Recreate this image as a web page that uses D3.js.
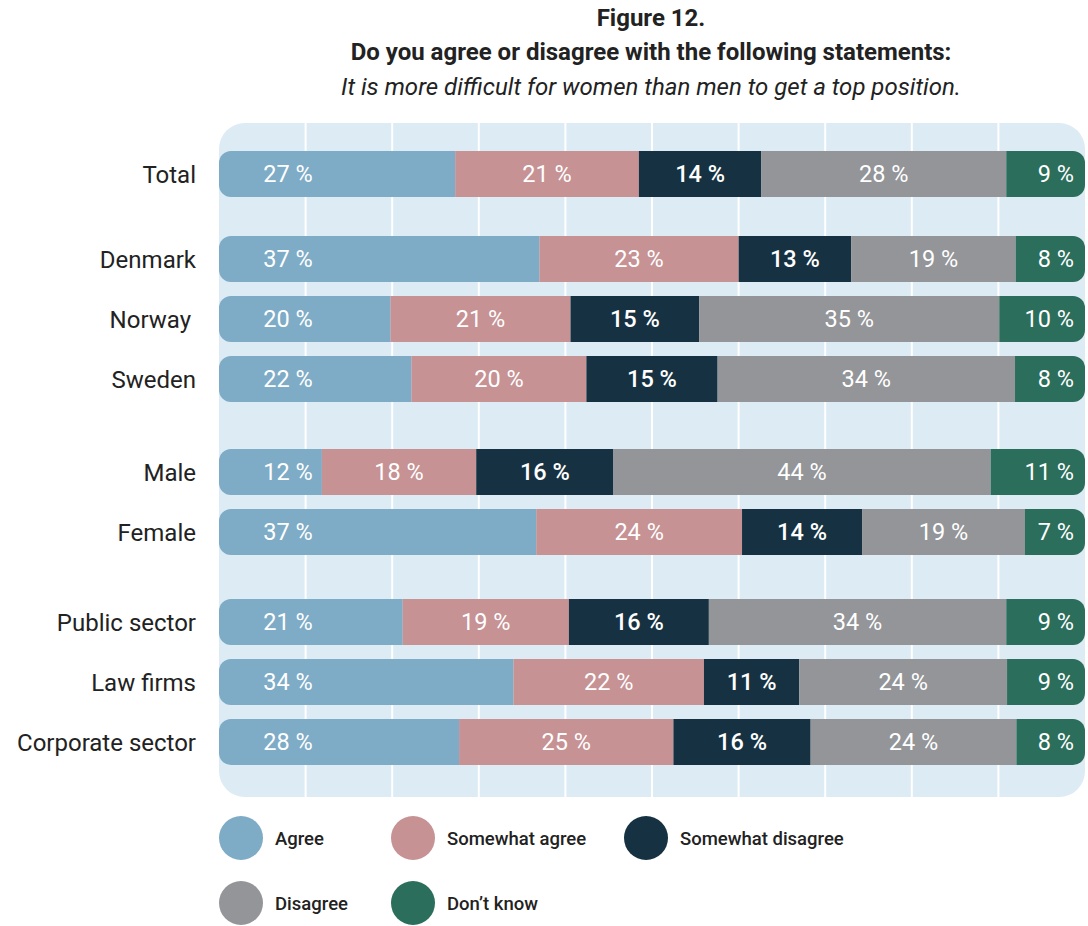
<!DOCTYPE html>
<html>
<head>
<meta charset="utf-8">
<script src="https://cdn.jsdelivr.net/npm/d3@7"></script>
<style>
  html, body { margin: 0; padding: 0; background: #fff; }
  svg { display: block; font-family: Roboto, "Noto Sans", sans-serif; }
</style>
</head>
<body>
<svg id="chart" width="1088" height="926"></svg>
<script>
// Survey answers, percent of respondents per row
const categories = ["Total", "Denmark", "Norway", "Sweden", "Male", "Female", "Public sector", "Law firms", "Corporate sector"];
const groups = [0, 1, 1, 1, 2, 2, 3, 3, 3];
const answers = ["Agree", "Somewhat agree", "Somewhat disagree", "Disagree", "Don\u2019t know"];
const agree             = [27, 37, 20, 22, 12, 37, 21, 34, 28];
const somewhatAgree     = [21, 23, 21, 20, 18, 24, 19, 22, 25];
const somewhatDisagree  = [14, 13, 15, 15, 16, 14, 16, 11, 16];
const disagree          = [28, 19, 35, 34, 44, 19, 34, 24, 24];
const dontKnow          = [9, 8, 10, 8, 11, 7, 9, 9, 8];
const colors = ["#7eabc6", "#c69294", "#163242", "#939598", "#2a6e5b"];

const rows = categories.map((c, i) => ({
  category: c,
  group: groups[i],
  "Agree": agree[i],
  "Somewhat agree": somewhatAgree[i],
  "Somewhat disagree": somewhatDisagree[i],
  "Disagree": disagree[i],
  "Don\u2019t know": dontKnow[i]
}));

const svg = d3.select("#chart");

// Plot frame
const plotLeft = 219, plotRight = 1085, plotTop = 123, plotBottom = 797;
const x = d3.scaleLinear().domain([0, 1]).range([plotLeft, plotRight]);
const step = 60, firstY = 174, barH = 46;
const groupOffset = [0, 25, 58, 88];   // extra space before each group
const yIndex = d3.scaleLinear().domain([0, 1]).range([firstY, firstY + step]);
const yc = d => yIndex(categories.indexOf(d.category)) + groupOffset[d.group];

const color = d3.scaleOrdinal().domain(answers).range(colors);
const stack = d3.stack().keys(answers).offset(d3.stackOffsetExpand);
const series = stack(rows);

// Background panel
svg.append("rect")
  .attr("x", plotLeft).attr("y", plotTop)
  .attr("width", plotRight - plotLeft).attr("height", plotBottom - plotTop)
  .attr("rx", 26).attr("ry", 26)
  .attr("fill", "#dcebf4");

// Vertical grid lines
svg.append("g")
  .selectAll("line")
  .data(d3.range(1, 10).map(k => k / 10))
  .join("line")
  .attr("x1", d => x(d)).attr("x2", d => x(d))
  .attr("y1", plotTop).attr("y2", plotBottom)
  .attr("stroke", "#ffffff").attr("stroke-width", 2);

// Rounded clip for each row's bar
const defs = svg.append("defs");
rows.forEach((d, i) => {
  defs.append("clipPath").attr("id", "rowclip" + i)
    .append("rect")
    .attr("x", x(0)).attr("y", yc(d) - barH / 2)
    .attr("width", x(1) - x(0)).attr("height", barH)
    .attr("rx", 12).attr("ry", 12);
});

const barsG = svg.append("g");
rows.forEach((row, i) => {
  const g = barsG.append("g").attr("clip-path", `url(#rowclip${i})`);
  series.forEach(s => {
    const seg = s[i];
    g.append("rect")
      .attr("x", x(seg[0]))
      .attr("y", yc(row) - barH / 2)
      .attr("width", x(seg[1]) - x(seg[0]))
      .attr("height", barH)
      .attr("fill", color(s.key));
  });
});

// Value labels
const labelsG = svg.append("g")
  .attr("font-size", 23.5)
  .attr("fill", "#ffffff");
rows.forEach((row, i) => {
  series.forEach((s, k) => {
    const seg = s[i];
    let px, anchor = "middle";
    if (k === 0) { px = x(0) + 69; }
    else if (k === answers.length - 1) { px = x(1) - 11; anchor = "end"; }
    else { px = (x(seg[0]) + x(seg[1])) / 2; }
    labelsG.append("text")
      .attr("x", px)
      .attr("y", yc(row))
      .attr("dy", "0.36em")
      .attr("text-anchor", anchor)
      .attr("font-weight", k === 2 ? 500 : 400)
      .text(row[s.key] + " %");
  });
});

// Category labels
svg.append("g")
  .selectAll("text")
  .data(rows)
  .join("text")
  .attr("x", d => d.category === "Norway" ? 191 : 196)
  .attr("y", d => yc(d))
  .attr("dy", "0.36em")
  .attr("text-anchor", "end")
  .attr("font-size", 24)
  .attr("fill", "#222222")
  .text(d => d.category);

// Title block
const cx = 651;
svg.append("text").attr("x", cx).attr("y", 26)
  .attr("text-anchor", "middle").attr("font-size", 24).attr("font-weight", 700)
  .attr("fill", "#222222").text("Figure 12.");
svg.append("text").attr("x", cx).attr("y", 60)
  .attr("text-anchor", "middle").attr("font-size", 24).attr("font-weight", 700)
  .attr("fill", "#222222").text("Do you agree or disagree with the following statements:");
svg.append("text").attr("x", cx).attr("y", 95)
  .attr("text-anchor", "middle").attr("font-size", 24).attr("font-style", "italic")
  .attr("fill", "#222222").text("It is more difficult for women than men to get a top position.");

// Legend
const legendPos = [[241, 838], [413, 838], [646, 838], [241, 903], [413, 903]];
const legend = svg.append("g")
  .selectAll("g")
  .data(answers)
  .join("g")
  .attr("transform", (d, i) => `translate(${legendPos[i][0]},${legendPos[i][1]})`);
legend.append("circle").attr("r", 22).attr("fill", d => color(d));
legend.append("text")
  .attr("x", 34).attr("dy", "0.36em")
  .attr("font-size", 18.5).attr("font-weight", 500)
  .attr("fill", "#222222")
  .text(d => d);
</script>
</body>
</html>
